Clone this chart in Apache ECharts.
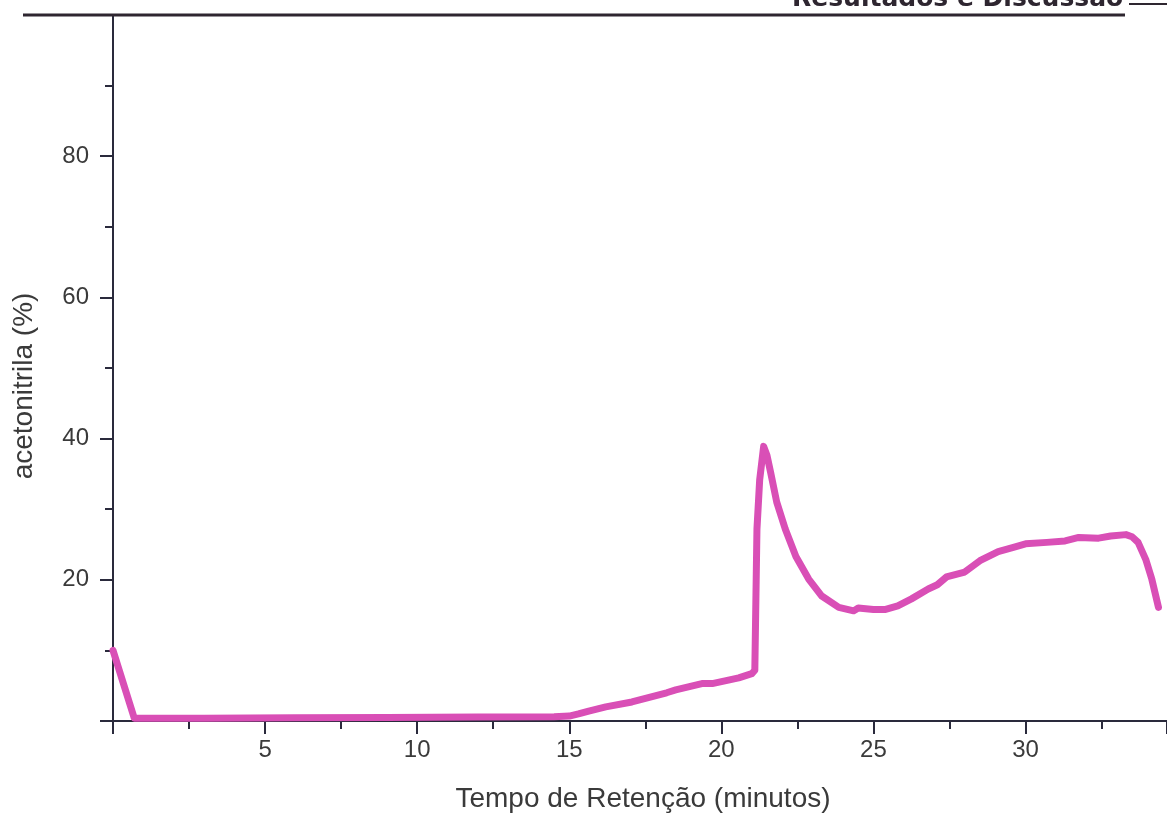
<!DOCTYPE html>
<html>
<head>
<meta charset="utf-8">
<script src="https://cdn.jsdelivr.net/npm/echarts@6/dist/echarts.min.js"></script>
<style>
html,body{margin:0;padding:0;background:#fff;}
#chart{width:1167px;height:813px;}
</style>
</head>
<body>
<div id="chart"></div>
<script>
// Retention time (minutes)
var timeMin = [0, 0.7, 3, 6, 9, 12, 14.5, 15.0, 15.3, 15.64, 16.2, 17.06, 18.2, 18.5, 19.36, 19.7, 20.57, 21.0, 21.1, 21.17, 21.26, 21.39, 21.5, 21.62, 21.82, 22.1, 22.45, 22.87, 23.3, 23.86, 24.35, 24.5, 25.0, 25.4, 25.8, 26.25, 26.8, 27.1, 27.4, 28.0, 28.5, 29.1, 29.6, 30.0, 30.7, 31.3, 31.75, 32.4, 32.8, 33.3, 33.5, 33.7, 33.95, 34.15, 34.37];
// Acetonitrile (%)
var acetonitrile = [10, 0.4, 0.4, 0.45, 0.5, 0.55, 0.6, 0.7, 1.0, 1.4, 2.0, 2.7, 4.0, 4.4, 5.3, 5.3, 6.1, 6.7, 7.2, 27.2, 34.2, 38.9, 37.6, 35.2, 31.0, 27.2, 23.3, 20.1, 17.7, 16.1, 15.6, 16.0, 15.8, 15.8, 16.3, 17.3, 18.7, 19.3, 20.4, 21.1, 22.7, 24.0, 24.6, 25.1, 25.3, 25.5, 26.0, 25.9, 26.2, 26.4, 26.1, 25.3, 22.9, 20.1, 16.1];
var xTicks = [5, 10, 15, 20, 25, 30];
var yTicks = [20, 40, 60, 80];

var pts = timeMin.map(function (t, i) { return [t, acetonitrile[i]]; });
var axisColor = '#2a2a3c';
var labelColor = '#3a3a3a';
var font = '"Liberation Sans", Arial, sans-serif';

var chart = echarts.init(document.getElementById('chart'), null, {renderer: 'canvas'});
chart.setOption({
  animation: false,
  backgroundColor: '#ffffff',
  grid: {left: 113, right: 0, top: 15, bottom: 92, containLabel: false},
  xAxis: {
    type: 'value', min: 0, max: 34.65, interval: 5,
    axisLine: {show: true, onZero: false, lineStyle: {color: axisColor, width: 2}},
    axisTick: {show: true, length: 13, lineStyle: {color: axisColor, width: 2}},
    minorTick: {show: true, splitNumber: 2, length: 8, lineStyle: {color: axisColor, width: 2}},
    splitLine: {show: false},
    axisLabel: {
      color: labelColor, fontSize: 24, fontFamily: font, margin: 17,
      showMaxLabel: false,
      formatter: function (v) { return xTicks.indexOf(v) >= 0 ? String(v) : ''; }
    }
  },
  yAxis: {
    type: 'value', min: 0, max: 100, interval: 20,
    axisLine: {show: true, onZero: false, lineStyle: {color: axisColor, width: 2}},
    axisTick: {show: true, length: 13, lineStyle: {color: axisColor, width: 2}},
    minorTick: {show: true, splitNumber: 2, length: 8, lineStyle: {color: axisColor, width: 2}},
    splitLine: {show: false},
    axisLabel: {
      color: labelColor, fontSize: 24, fontFamily: font, margin: 24,
      formatter: function (v) { return yTicks.indexOf(v) >= 0 ? String(v) : ''; }
    }
  },
  graphic: [
    {type: 'line', shape: {x1: 23, y1: 15, x2: 1125, y2: 15}, style: {stroke: '#2e2630', lineWidth: 3}, z: 10},
    {type: 'text', left: 792, top: -13, style: {text: 'Resultados e Discussão', font: 'bold 25px "DejaVu Sans", sans-serif', fill: '#2e2630'}, z: 10},
    {type: 'line', shape: {x1: 1129, y1: 4, x2: 1167, y2: 4}, style: {stroke: '#2e2630', lineWidth: 2}, z: 10},
    {type: 'text', x: 643, y: 799, style: {text: 'Tempo de Retenção (minutos)', font: '28px "Liberation Sans", Arial, sans-serif', fill: labelColor, textAlign: 'center', textVerticalAlign: 'middle'}},
    {type: 'text', x: 24, y: 386, rotation: Math.PI / 2, style: {text: 'acetonitrila (%)', font: '28px "Liberation Sans", Arial, sans-serif', fill: labelColor, textAlign: 'center', textVerticalAlign: 'middle'}}
  ],
  series: [{
    type: 'line',
    data: pts,
    showSymbol: false,
    smooth: false,
    clip: false,
    lineStyle: {color: '#d94fb6', width: 7, cap: 'round', join: 'round'}
  }]
});
</script>
</body>
</html>
